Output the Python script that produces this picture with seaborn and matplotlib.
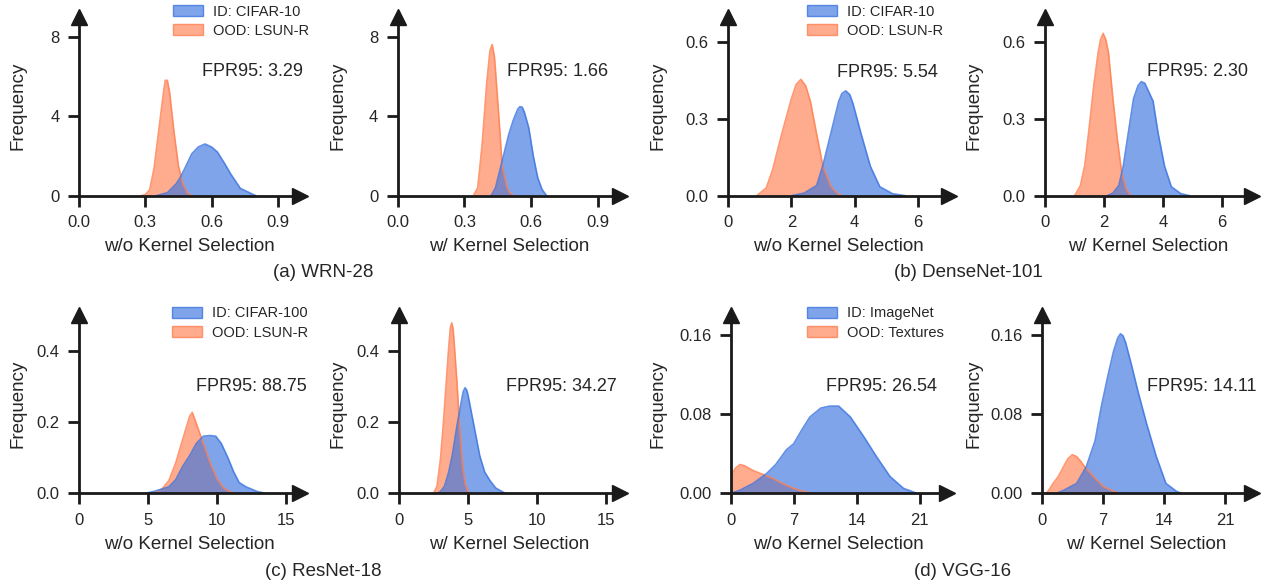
import matplotlib
matplotlib.use("Agg")
import matplotlib.pyplot as plt
import matplotlib.patches as mpatches
from matplotlib.colors import to_rgba
import seaborn as sns


# ── Density curves (x, density) ───────────────────────────────────────────────
# (a) WRN-28
wrn_wo_id_x = [0.35, 0.40, 0.44, 0.46, 0.48, 0.51, 0.54, 0.57, 0.60, 0.626, 0.66, 0.686, 0.73, 0.777, 0.80]
wrn_wo_id_y = [0.0, 0.15, 0.6, 0.95, 1.4, 2.1, 2.45, 2.6, 2.45, 2.2, 1.6, 1.1, 0.37, 0.12, 0.0]
wrn_wo_ood_x = [0.28, 0.30, 0.32, 0.34, 0.36, 0.38, 0.39, 0.40, 0.41, 0.43, 0.45, 0.47, 0.49, 0.51]
wrn_wo_ood_y = [0.0, 0.05, 0.3, 1.4, 3.2, 5.0, 5.8, 5.8, 5.2, 3.2, 1.5, 0.6, 0.15, 0.0]
wrn_w_id_x = [0.42, 0.44, 0.46, 0.48, 0.50, 0.52, 0.54, 0.55, 0.56, 0.57, 0.59, 0.61, 0.63, 0.65, 0.67]
wrn_w_id_y = [0.0, 0.4, 1.3, 2.2, 3.1, 3.8, 4.35, 4.48, 4.45, 4.2, 3.4, 2.0, 0.9, 0.3, 0.0]
wrn_w_ood_x = [0.34, 0.36, 0.38, 0.40, 0.415, 0.425, 0.435, 0.44, 0.46, 0.47, 0.48, 0.49, 0.50, 0.52]
wrn_w_ood_y = [0.0, 0.4, 2.6, 5.6, 7.3, 7.6, 7.0, 6.3, 3.2, 1.5, 1.0, 0.5, 0.2, 0.0]

# (b) DenseNet-101
dn_wo_id_x = [2.0, 2.4, 2.8, 3.0, 3.25, 3.5, 3.6, 3.72, 3.85, 3.95, 4.2, 4.5, 4.8, 5.2, 5.6]
dn_wo_id_y = [0.0, 0.01, 0.04, 0.12, 0.245, 0.37, 0.40, 0.41, 0.395, 0.36, 0.245, 0.115, 0.035, 0.008, 0.0]
dn_wo_ood_x = [0.9, 1.2, 1.4, 1.7, 2.0, 2.15, 2.3, 2.45, 2.6, 2.8, 3.0, 3.25, 3.5, 3.6]
dn_wo_ood_y = [0.0, 0.03, 0.10, 0.245, 0.38, 0.435, 0.455, 0.43, 0.37, 0.24, 0.115, 0.035, 0.005, 0.0]
dn_w_id_x = [2.1, 2.3, 2.5, 2.65, 2.8, 3.0, 3.15, 3.26, 3.38, 3.5, 3.66, 3.83, 4.05, 4.28, 4.6, 4.9]
dn_w_id_y = [0.0, 0.01, 0.04, 0.115, 0.23, 0.38, 0.43, 0.446, 0.44, 0.41, 0.37, 0.245, 0.115, 0.035, 0.008, 0.0]
dn_w_ood_x = [1.0, 1.2, 1.35, 1.5, 1.65, 1.8, 1.88, 1.97, 2.06, 2.15, 2.3, 2.45, 2.6, 2.75, 2.9]
dn_w_ood_y = [0.0, 0.04, 0.12, 0.27, 0.43, 0.56, 0.61, 0.635, 0.61, 0.56, 0.38, 0.22, 0.09, 0.025, 0.0]

# (c) ResNet-18
rn_wo_id_x = [4.8, 5.5, 6.5, 7.0, 7.5, 8.0, 8.5, 9.0, 9.5, 9.9, 10.3, 10.8, 11.2, 11.6, 12.1, 12.9, 13.5]
rn_wo_id_y = [0.0, 0.006, 0.018, 0.038, 0.075, 0.105, 0.14, 0.16, 0.162, 0.16, 0.14, 0.098, 0.06, 0.03, 0.018, 0.005, 0.0]
rn_wo_ood_x = [5.5, 6.0, 6.5, 7.0, 7.5, 8.0, 8.2, 8.5, 9.0, 9.5, 10.0, 10.5, 11.0, 11.3]
rn_wo_ood_y = [0.0, 0.012, 0.035, 0.085, 0.15, 0.215, 0.227, 0.195, 0.14, 0.085, 0.04, 0.014, 0.003, 0.0]
rn_w_id_x = [2.8, 3.0, 3.3, 3.6, 3.85, 4.2, 4.5, 4.65, 4.78, 4.9, 5.0, 5.4, 5.85, 6.2, 6.6, 7.0, 7.4, 7.7]
rn_w_id_y = [0.0, 0.005, 0.02, 0.06, 0.105, 0.19, 0.255, 0.285, 0.296, 0.29, 0.275, 0.195, 0.105, 0.06, 0.035, 0.015, 0.006, 0.0]
rn_w_ood_x = [2.5, 2.75, 3.0, 3.2, 3.4, 3.6, 3.72, 3.82, 3.92, 4.0, 4.2, 4.4, 4.6, 4.8, 5.0, 5.2]
rn_w_ood_y = [0.0, 0.02, 0.095, 0.19, 0.30, 0.41, 0.465, 0.478, 0.46, 0.42, 0.31, 0.18, 0.08, 0.025, 0.005, 0.0]

# (d) VGG-16
vgg_wo_id_x = [0.0, 1.0, 2.5, 4.0, 5.0, 6.2, 7.0, 7.9, 8.8, 10.0, 11.0, 12.0, 13.3, 14.8, 16.2, 17.7, 19.2, 20.7]
vgg_wo_id_y = [0.0, 0.003, 0.01, 0.02, 0.029, 0.044, 0.05, 0.064, 0.077, 0.086, 0.088, 0.088, 0.077, 0.057, 0.037, 0.017, 0.005, 0.0]
vgg_wo_ood_x = [0.0, 0.5, 1.0, 1.5, 2.5, 3.6, 4.7, 5.5, 6.2, 7.0, 7.7, 8.5, 9.2]
vgg_wo_ood_y = [0.017, 0.025, 0.029, 0.028, 0.023, 0.019, 0.015, 0.011, 0.008, 0.005, 0.003, 0.001, 0.0]
vgg_w_id_x = [1.7, 2.5, 4.0, 5.1, 6.1, 6.8, 7.6, 8.2, 8.7, 9.0, 9.3, 9.6, 10.25, 11.0, 12.0, 13.1, 14.2, 15.4, 16.0]
vgg_w_id_y = [0.0, 0.003, 0.01, 0.027, 0.053, 0.087, 0.12, 0.143, 0.157, 0.161, 0.159, 0.152, 0.13, 0.103, 0.07, 0.037, 0.01, 0.002, 0.0]
vgg_w_ood_x = [0.5, 0.8, 1.3, 1.9, 2.5, 3.0, 3.5, 4.0, 4.4, 4.9, 5.9, 7.0, 8.2, 8.9]
vgg_w_ood_y = [0.0, 0.003, 0.01, 0.017, 0.027, 0.035, 0.039, 0.037, 0.033, 0.027, 0.017, 0.007, 0.002, 0.0]

# ── Labels, ticks, scores ─────────────────────────────────────────────────────
xlabels = ["w/o Kernel Selection", "w/ Kernel Selection"] * 4
fpr_scores = ["3.29", "1.66", "5.54", "2.30", "88.75", "34.27", "26.54", "14.11"]
id_names = ["ID: CIFAR-10", "ID: CIFAR-10", "ID: CIFAR-100", "ID: ImageNet"]
ood_names = ["OOD: LSUN-R", "OOD: LSUN-R", "OOD: LSUN-R", "OOD: Textures"]
captions = ["(a) WRN-28", "(b) DenseNet-101", "(c) ResNet-18", "(d) VGG-16"]

xticks = [[0, 0.3, 0.6, 0.9], [0, 2, 4, 6], [0, 5, 10, 15], [0, 7, 14, 21]]
xticklabels = [["0.0", "0.3", "0.6", "0.9"], ["0", "2", "4", "6"],
               ["0", "5", "10", "15"], ["0", "7", "14", "21"]]
yticks = [[0, 4, 8], [0.0, 0.3, 0.6], [0.0, 0.2, 0.4], [0.0, 0.08, 0.16]]
yticklabels = [["0", "4", "8"], ["0.0", "0.3", "0.6"],
               ["0.0", "0.2", "0.4"], ["0.00", "0.08", "0.16"]]
xlims = [1.0, 7.0, 16.0, 24.0]
ylims = [9.0, 0.7, 0.5, 0.18]

curves = [
    (wrn_wo_id_x, wrn_wo_id_y, wrn_wo_ood_x, wrn_wo_ood_y),
    (wrn_w_id_x, wrn_w_id_y, wrn_w_ood_x, wrn_w_ood_y),
    (dn_wo_id_x, dn_wo_id_y, dn_wo_ood_x, dn_wo_ood_y),
    (dn_w_id_x, dn_w_id_y, dn_w_ood_x, dn_w_ood_y),
    (rn_wo_id_x, rn_wo_id_y, rn_wo_ood_x, rn_wo_ood_y),
    (rn_w_id_x, rn_w_id_y, rn_w_ood_x, rn_w_ood_y),
    (vgg_wo_id_x, vgg_wo_id_y, vgg_wo_ood_x, vgg_wo_ood_y),
    (vgg_w_id_x, vgg_w_id_y, vgg_w_ood_x, vgg_w_ood_y),
]

# ── Layout (pixels in the 1272x586 canvas) ────────────────────────────────────
W, H = 1272, 586
# left, right, top, bottom of each axes box
boxes = [
    (79, 300, 16.7, 195.7), (397.7, 620, 16.7, 195.7),
    (728.3, 949.3, 16.7, 195.7), (1045, 1251.7, 16.7, 195.7),
    (79, 300, 315, 493.3), (399, 620, 315, 493.3),
    (730.7, 946.7, 315, 493.3), (1041.7, 1251.7, 315, 493.3),
]
ylabel_px = [17, 337, 657, 973] * 2   # centre of the "Frequency" label
fpr_pos = [(0.555, 0.693), (0.49, 0.693), (0.493, 0.687), (0.495, 0.693),
           (0.53, 0.60), (0.484, 0.60), (0.44, 0.60), (0.503, 0.60)]
legend_pos = {0: (0.425, 1.068), 2: (0.356, 1.068), 4: (0.421, 1.048), 6: (0.353, 1.048)}
caption_pos = [(323, 273), (968, 273), (323, 571), (963, 571)]

# ── Style ─────────────────────────────────────────────────────────────────────
sns.set_theme(style="ticks")
plt.rcParams["font.family"] = ["Liberation Sans", "DejaVu Sans"]
BLUE = "#3a74e0"
ORANGE = "coral"
FILL_ALPHA = 0.65
INK = "#1a1a1a"

fig = plt.figure(figsize=(W / 100, H / 100), dpi=100)

for i, (l, r, t, b) in enumerate(boxes):
    g = i // 2
    ax = fig.add_axes([l / W, 1 - b / H, (r - l) / W, (b - t) / H])
    id_x, id_y, ood_x, ood_y = curves[i]

    # OOD first, ID layered on top
    for xs, ys, c in [(ood_x, ood_y, ORANGE), (id_x, id_y, BLUE)]:
        ax.fill_between(xs, ys, 0, color=c, alpha=FILL_ALPHA, linewidth=0)
        sns.lineplot(x=xs, y=ys, color=c, alpha=0.8, linewidth=1.2, ax=ax)

    ax.set_xlim(0, xlims[g])
    ax.set_ylim(0, ylims[g])
    ax.set_xticks(xticks[g])
    ax.set_xticklabels(xticklabels[g])
    ax.set_yticks(yticks[g])
    ax.set_yticklabels(yticklabels[g])
    ax.set_xlabel(xlabels[i], fontsize=13.5, labelpad=6)
    ax.set_ylabel("Frequency", fontsize=13.5)
    ax.yaxis.set_label_coords((ylabel_px[i] + 10 - l) / (r - l), 0.5)

    sns.despine(ax=ax)
    for side in ["left", "bottom"]:
        ax.spines[side].set_linewidth(2)
        ax.spines[side].set_color(INK)
    ax.tick_params(direction="out", length=8, width=2, pad=6, labelsize=12,
                   color=INK, labelcolor="#262626")

    # arrow heads at the axis ends
    ax.plot(1, 0, ">", color=INK, ms=11, transform=ax.get_yaxis_transform(), clip_on=False)
    ax.plot(0, 1, "^", color=INK, ms=11, transform=ax.get_xaxis_transform(), clip_on=False)

    ax.text(*fpr_pos[i], f"FPR95: {fpr_scores[i]}", transform=ax.transAxes,
            fontsize=13, ha="left", va="center", color="#262626")

    if i in legend_pos:
        handles = [
            mpatches.Patch(facecolor=to_rgba(BLUE, FILL_ALPHA), edgecolor=to_rgba(BLUE, 0.8), linewidth=1),
            mpatches.Patch(facecolor=to_rgba(ORANGE, FILL_ALPHA), edgecolor=to_rgba(ORANGE, 0.8), linewidth=1),
        ]
        ax.legend(handles, [id_names[g], ood_names[g]], loc="upper left",
                  bbox_to_anchor=legend_pos[i], frameon=False, fontsize=10.5,
                  borderpad=0, borderaxespad=0, handlelength=2.05,
                  handleheight=0.75, handletextpad=0.68, labelspacing=0.35)

for text, (cx, cy) in zip(captions, caption_pos):
    fig.text(cx / W, 1 - cy / H, text, ha="center", va="center", fontsize=13.5, color="#262626")

fig.savefig("out.png", dpi=100)
plt.close(fig)
